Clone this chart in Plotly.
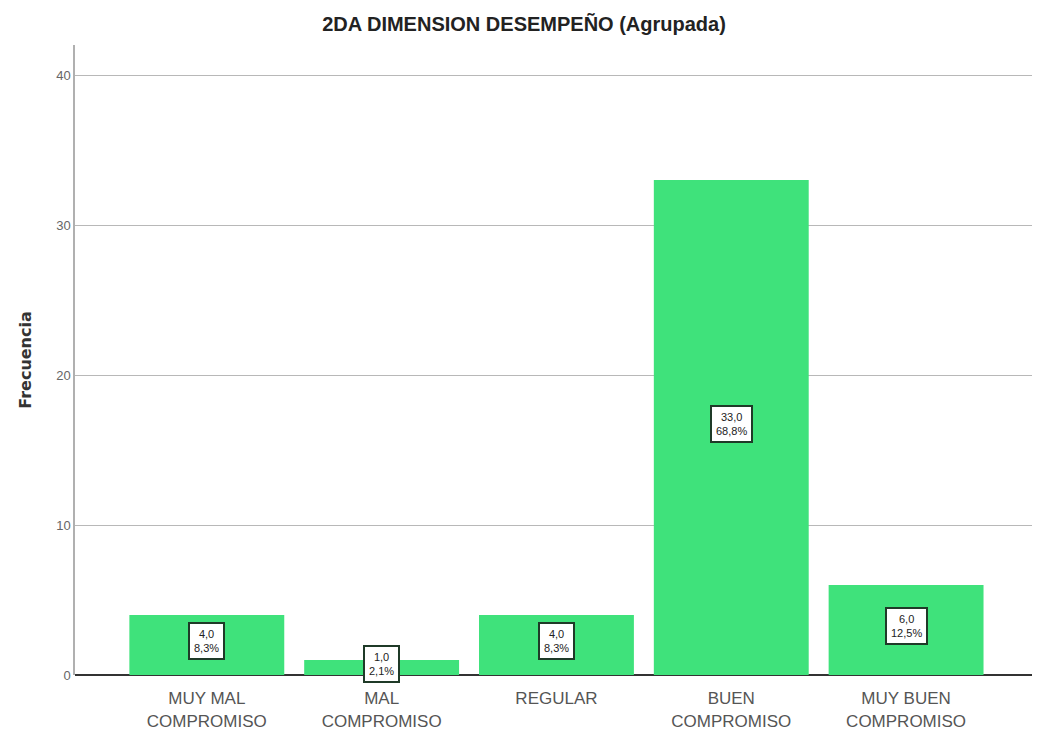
import plotly.graph_objects as go

categories = ["MUY MAL<br>COMPROMISO", "MAL<br>COMPROMISO", "REGULAR", "BUEN<br>COMPROMISO", "MUY BUEN<br>COMPROMISO"]
frequencies = [4, 1, 4, 33, 6]
percent_labels = ["8,3%", "2,1%", "8,3%", "68,8%", "12,5%"]
count_labels = ["4,0", "1,0", "4,0", "33,0", "6,0"]
y_ticks = [0, 10, 20, 30, 40]

FONT = "Liberation Sans Narrow, Arial Narrow, Liberation Sans, Arial"

fig = go.Figure()
fig.add_trace(go.Bar(
    x=list(range(len(categories))),
    y=frequencies,
    marker=dict(color="#3FE27B", line=dict(width=0)),
    hoverinfo="skip",
))

for i, (v, c, p) in enumerate(zip(frequencies, count_labels, percent_labels)):
    fig.add_annotation(
        x=i, y=v / 2, xref="x", yref="y", yshift=4,
        text=f"{c}<br>{p}", showarrow=False,
        font=dict(family=FONT, size=11, color="#222222"),
        bgcolor="white", bordercolor="#1f3a28", borderwidth=2, borderpad=4,
    )

# page body has an 8px default margin, so the figure is 8px smaller and shifted
fig.update_layout(
    width=1032, height=732,
    margin=dict(l=67, r=0, t=37, b=65),
    paper_bgcolor="white", plot_bgcolor="white",
    bargap=0.114,
    showlegend=False,
    title=dict(text="<b>2DA DIMENSION DESEMPEÑO (Agrupada)</b>", x=0.5, xanchor="center",
               y=0.9775, yanchor="middle", automargin=False,
               font=dict(family=FONT, size=20, color="#222222")),
    xaxis=dict(
        tickmode="array", tickvals=list(range(len(categories))), ticktext=categories,
        range=[-0.754, 4.766], showgrid=False, zeroline=False,
        showline=False, ticks="outside", ticklen=8, tickcolor="rgba(0,0,0,0)",
        automargin=False,
        tickfont=dict(family=FONT, size=17, color="#555555"),
    ),
    yaxis=dict(
        range=[0, 42], tickvals=y_ticks, ticktext=[str(t) for t in y_ticks],
        showgrid=True, gridcolor="#b8b8b8", gridwidth=1,
        zeroline=True, zerolinecolor="#333333", zerolinewidth=1.5,
        showline=True, linecolor="#b0b0b0", linewidth=1.5,
        ticks="", automargin=False,
        tickfont=dict(family=FONT, size=13, color="#666666"),
        title=dict(text="<b>Frecuencia</b>", font=dict(family="DejaVu Sans", size=16, color="#333333"), standoff=21),
    ),
)

fig.write_html("out.html")
